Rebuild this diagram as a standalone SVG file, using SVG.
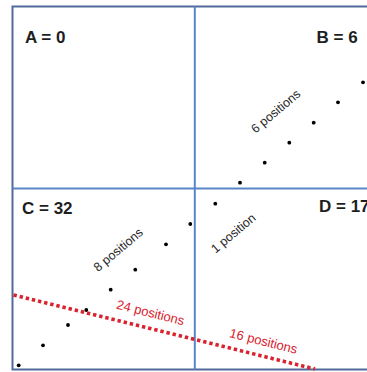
<svg xmlns="http://www.w3.org/2000/svg" width="367" height="372" viewBox="0 0 367 372">
<style>
.lbl{font-family:"Liberation Sans",Arial,sans-serif;font-weight:bold;font-size:17px;fill:#1e1e1e}
.pos{font-family:"Liberation Sans",Arial,sans-serif;font-size:12.5px;fill:#2a2a2a}
.red{font-family:"Liberation Sans",Arial,sans-serif;font-size:13px;fill:#d9222e}
.dot{fill:#000}
</style>
<rect width="367" height="372" fill="#ffffff"/>
<g id="frame" fill="none">
<path d="M367 6.5 H12.5 V369.5 H367" stroke="#52699c" stroke-width="2"/>
<line x1="194.8" y1="6.5" x2="194.8" y2="369.5" stroke="#5a85c6" stroke-width="2"/>
<line x1="12.5" y1="188.5" x2="367" y2="188.5" stroke="#5a85c6" stroke-width="2"/>
</g>
<g id="A"><text class="lbl" x="25" y="42.7">A = 0</text></g>
<g id="B">
<text class="lbl" x="316.5" y="42.7">B = 6</text>
<circle class="dot" cx="363" cy="82.3" r="1.9"/>
<circle class="dot" cx="338" cy="102.3" r="1.9"/>
<circle class="dot" cx="313.7" cy="122.7" r="1.9"/>
<circle class="dot" cx="289.3" cy="142.7" r="1.9"/>
<circle class="dot" cx="264.7" cy="162.7" r="1.9"/>
<circle class="dot" cx="240" cy="182.7" r="1.9"/>
<text class="pos" text-anchor="middle" transform="translate(278.5 114.5) rotate(-40)">6 positions</text>
</g>
<g id="C">
<text class="lbl" x="22" y="214.3">C = 32</text>
<circle class="dot" cx="190.3" cy="224" r="1.9"/>
<circle class="dot" cx="166" cy="244.3" r="1.9"/>
<circle class="dot" cx="135.3" cy="269.7" r="1.9"/>
<circle class="dot" cx="110.7" cy="289.7" r="1.9"/>
<circle class="dot" cx="86.3" cy="310" r="1.9"/>
<circle class="dot" cx="68" cy="325" r="1.9"/>
<circle class="dot" cx="43" cy="345.3" r="1.9"/>
<circle class="dot" cx="18.7" cy="365.3" r="1.9"/>
<text class="pos" text-anchor="middle" transform="translate(121 253) rotate(-40)">8 positions</text>
</g>
<g id="D">
<text class="lbl" x="319" y="211.8">D = 17</text>
<circle class="dot" cx="215.3" cy="203.7" r="1.9"/>
<text class="pos" text-anchor="middle" transform="translate(236 236.5) rotate(-40)">1 position</text>
</g>
<g id="connectors">
<line x1="13.5" y1="295" x2="315" y2="369" stroke="#d9222e" stroke-width="3.6" stroke-dasharray="3.4 2.9"/>
<text class="red" text-anchor="middle" transform="translate(149.5 317) rotate(14)">24 positions</text>
<text class="red" text-anchor="middle" transform="translate(262.5 345.5) rotate(14)">16 positions</text>
</g>
</svg>
